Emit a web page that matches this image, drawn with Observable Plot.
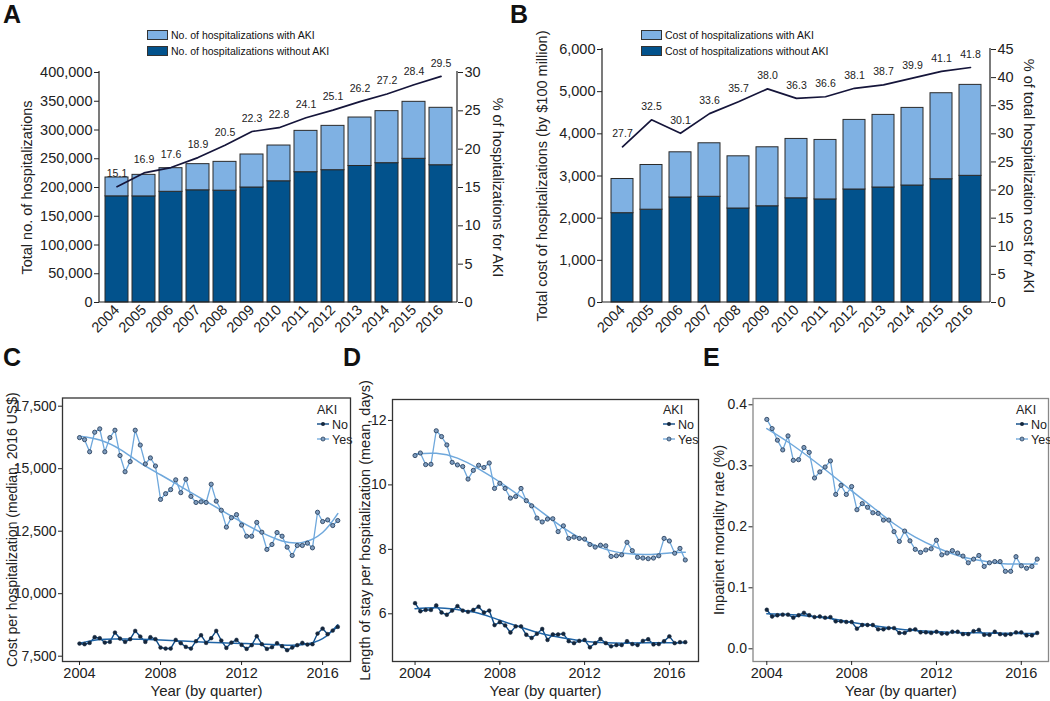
<!DOCTYPE html>
<html><head><meta charset="utf-8">
<script src="https://cdn.jsdelivr.net/npm/d3@7"></script>
<script src="https://cdn.jsdelivr.net/npm/@observablehq/plot@0.6"></script>
<style>
body{margin:0;background:#fff;font-family:"Liberation Sans",Arial,sans-serif;}
#root{position:relative;width:1050px;height:701px;overflow:hidden;background:#fff;}
.panel{position:absolute;}
.lab{position:absolute;font-weight:bold;font-size:25px;line-height:25px;color:#111;}
.leg{position:absolute;font-size:10.5px;line-height:12px;color:#111;white-space:nowrap;}
.sw{position:absolute;width:19px;height:8px;border:1px solid #333;}
</style></head><body><div id="root"></div>
<script>
// ---------- data ----------
const years = [2004,2005,2006,2007,2008,2009,2010,2011,2012,2013,2014,2015,2016];
const hospWithoutAKI = [184600,184500,192500,195100,194500,200000,210800,226600,230100,237400,242300,249900,238700];
const hospWithAKI    = [32800,37500,41100,45500,50100,57400,62200,71900,77100,84300,90500,99100,99900];
const hospPctAKI     = [15.1,16.9,17.6,18.9,20.5,22.3,22.8,24.1,25.1,26.2,27.2,28.4,29.5];
const costWithoutAKI = [2118,2201,2490,2507,2229,2282,2471,2444,2680,2727,2774,2923,3004];
const costWithAKI    = [811,1060,1072,1269,1238,1399,1408,1411,1650,1722,1841,2040,2157];
const costPctAKI     = [27.7,32.5,30.1,33.6,35.7,38.0,36.3,36.6,38.1,38.7,39.9,41.1,41.8];

const quarterOffsets = [0, 0.25, 0.5, 0.75];
const quarterX = years.flatMap(y => quarterOffsets.map(q => y + q));
const smoothYears = [2004,2005,2006,2007,2008,2009,2010,2011,2012,2013,2014,2015,2016,2016.75];
const xTicks = [2004,2008,2012,2016];

const costYes = [16243,16162,15676,16459,16594,15676,16243,16540,15527,14878,15284,16540,15946,15189,15432,15108,13771,14000,14162,14554,14041,14581,13892,13649,13676,13649,14379,13703,13338,12663,13041,13163,12744,12298,12298,12852,12460,11770,11968,12447,12300,11862,11529,11928,11928,12021,11835,13258,12886,12952,12726,12926];
const costNo  = [8007,7980,8033,8260,8220,8047,8073,8447,8207,8073,8180,8513,8287,8073,8260,8180,7847,7807,7807,8153,8020,7873,7807,8100,8340,8033,8220,8513,8127,7833,8047,8153,7953,7793,7940,8300,7980,7793,7860,8020,7900,7740,7847,7940,8033,7967,7980,8407,8607,8380,8527,8673];
const costYesSmooth = [16297,16150,15775,15230,14757,14284,13811,13338,12865,12440,12110,12050,12450,13203];
const costNoSmooth  = [8020,8170,8190,8180,8150,8110,8070,8040,8010,7980,7950,7960,8200,8760];

const losYes = [10.91,10.99,10.63,10.64,11.68,11.50,11.24,10.70,10.62,10.57,10.18,10.45,10.61,10.54,10.68,9.89,10.05,9.89,9.59,9.64,9.89,9.51,9.35,8.97,8.85,8.94,8.95,8.55,8.73,8.34,8.38,8.34,8.32,8.15,8.07,8.13,8.11,7.78,7.80,7.83,8.22,7.96,7.75,7.73,7.71,7.73,7.80,8.34,8.26,7.88,8.03,7.67];
const losNo  = [6.33,6.08,6.12,6.12,6.26,6.04,5.97,6.10,6.24,6.10,6.06,6.12,6.22,6.04,6.10,5.65,5.74,5.64,5.42,5.61,5.61,5.35,5.25,5.38,5.53,5.19,5.36,5.36,5.38,5.15,5.09,5.16,5.19,4.96,5.09,5.22,5.09,4.99,5.03,5.03,5.15,5.06,5.03,5.16,5.21,5.05,5.06,5.15,5.30,5.09,5.12,5.12];
const losYesSmooth = [10.96,10.98,10.83,10.50,10.09,9.63,9.15,8.67,8.28,8.00,7.87,7.84,7.89,7.91];
const losNoSmooth  = [6.16,6.19,6.13,6.02,5.80,5.58,5.38,5.25,5.15,5.10,5.09,5.10,5.10,5.10];

const mortYes = [0.376,0.361,0.342,0.326,0.349,0.309,0.310,0.330,0.322,0.280,0.290,0.298,0.308,0.253,0.268,0.253,0.266,0.228,0.238,0.232,0.223,0.222,0.211,0.211,0.192,0.176,0.193,0.177,0.163,0.158,0.162,0.164,0.178,0.154,0.157,0.161,0.157,0.152,0.141,0.147,0.153,0.135,0.141,0.143,0.143,0.127,0.127,0.151,0.136,0.132,0.135,0.147];
const mortNo  = [0.064,0.053,0.055,0.056,0.056,0.051,0.055,0.059,0.055,0.052,0.053,0.051,0.052,0.045,0.045,0.044,0.044,0.033,0.039,0.039,0.039,0.032,0.032,0.034,0.034,0.026,0.026,0.031,0.032,0.027,0.027,0.026,0.028,0.025,0.025,0.028,0.028,0.024,0.024,0.029,0.031,0.023,0.023,0.028,0.024,0.023,0.024,0.027,0.027,0.022,0.022,0.026];
const mortYesSmooth = [0.361,0.339,0.314,0.287,0.259,0.232,0.205,0.183,0.166,0.153,0.145,0.140,0.139,0.139];
const mortNoSmooth  = [0.0573,0.0562,0.0535,0.0497,0.0437,0.0382,0.0333,0.0300,0.0284,0.0267,0.0262,0.0256,0.0251,0.0251];

// ---------- styles ----------
const FONT = '"Liberation Sans", Arial, sans-serif';
const DARK = "#02528c", LIGHT = "#7fb1e3";
const YES = "#6fa8dc", NO = "#0d4a86", NO_SMOOTH = "#1f64a6";

const root = document.getElementById("root");
function place(node, left, top) {
  const d = document.createElement("div");
  d.className = "panel"; d.style.left = left + "px"; d.style.top = top + "px";
  d.appendChild(node); root.appendChild(d);
}
function addHTML(cls, html, left, top) {
  const d = document.createElement("div");
  d.className = cls; d.style.left = left + "px"; d.style.top = top + "px";
  d.innerHTML = html; root.appendChild(d);
}
function edgeMark(...args) {
  const dims = args.find(a => a && a.marginLeft !== undefined && a.width !== undefined);
  const {marginLeft: l, marginRight: r, marginTop: t, marginBottom: b, width: w, height: h} = dims;
  const g = d3.create("svg:g").attr("stroke", "#222").attr("stroke-width", 1.2);
  g.append("line").attr("x1", l).attr("x2", l).attr("y1", t - 1).attr("y2", h - b);
  g.append("line").attr("x1", w - r).attr("x2", w - r).attr("y1", t - 1).attr("y2", h - b);
  g.append("line").attr("x1", l).attr("x2", w - r).attr("y1", h - b).attr("y2", h - b);
  return g.node();
}

function barPanel(o) {
  const rows = [
    ...years.map((y, i) => ({year: y, group: "without", value: o.without[i]})),
    ...years.map((y, i) => ({year: y, group: "with", value: o.with[i]}))
  ];
  const line = years.map((y, i) => ({year: y, pct: o.pct[i]}));
  const k = o.yMax / o.pMax;
  return Plot.plot({
    width: o.width, height: o.height,
    marginLeft: o.mL, marginRight: o.mR, marginTop: o.mT, marginBottom: o.mB,
    style: {fontFamily: FONT, fontSize: "14.5px", color: "#222", background: "transparent", overflow: "visible"},
    x: {type: "band", domain: years, paddingInner: o.padIn, paddingOuter: o.padOut},
    y: {domain: [0, o.yMax]},
    color: {domain: ["without", "with"], range: [DARK, LIGHT]},
    marks: [
      Plot.barY(rows, {x: "year", y: "value", fill: "group", stroke: "#2a2a2a", strokeWidth: 1}),
      edgeMark,
      Plot.line(line, {x: "year", y: d => d.pct * k, stroke: "#15153a", strokeWidth: 1.7}),
      Plot.text(line, {x: "year", y: d => d.pct * k, text: d => d.pct.toFixed(1), dy: -13, fontSize: 10.5, fill: "#222"}),
      Plot.axisY(d3.range(0, o.yMax + 1, o.yStep), {anchor: "left", tickFormat: d3.format(","), tickSize: 5, tickPadding: 2, label: null, fontSize: 14.5}),
      Plot.axisY(d3.range(0, o.pMax + 1, o.pStep).map(p => p * k), {anchor: "right", tickFormat: d => String(Math.round(d / k)), tickSize: 5, tickPadding: 2, label: null, fontSize: 14.5}),
      Plot.axisX({tickRotate: -45, tickSize: 0, tickPadding: 5, tickFormat: d => String(d), label: null, fontSize: 14.5}),
      Plot.text([o.yTitle], {frameAnchor: "left", textAnchor: "middle", lineAnchor: "middle", rotate: -90, dx: -o.yTitleOff, fontSize: 14.5, fill: "#222"}),
      Plot.text([o.pTitle], {frameAnchor: "right", textAnchor: "middle", lineAnchor: "middle", rotate: 90, dx: o.pTitleOff, fontSize: 14.5, fill: "#222"})
    ]
  });
}

function linePanel(o) {
  const yesRows = quarterX.map((x, i) => ({x, y: o.yes[i]}));
  const noRows = quarterX.map((x, i) => ({x, y: o.no[i]}));
  const yesS = smoothYears.map((x, i) => ({x, y: o.yesS[i]}));
  const noS = smoothYears.map((x, i) => ({x, y: o.noS[i]}));
  return Plot.plot({
    width: o.width, height: o.height,
    marginLeft: o.mL, marginRight: o.mR, marginTop: o.mT, marginBottom: o.mB,
    style: {fontFamily: FONT, fontSize: "14px", color: "#222", background: "transparent", overflow: "visible"},
    x: {domain: o.xDomain},
    y: {domain: o.yDomain},
    marks: [
      Plot.line(yesRows, {x: "x", y: "y", stroke: YES, strokeWidth: 1.3}),
      Plot.line(noRows, {x: "x", y: "y", stroke: NO, strokeWidth: 1.4}),
      Plot.line(yesS, {x: "x", y: "y", curve: "natural", stroke: YES, strokeWidth: 1.5}),
      Plot.line(noS, {x: "x", y: "y", curve: "natural", stroke: NO_SMOOTH, strokeWidth: 1.5}),
      Plot.dot(yesRows, {x: "x", y: "y", r: 2.1, fill: "#7f9dbf", stroke: "#2b4360", strokeWidth: 0.9}),
      Plot.dot(noRows, {x: "x", y: "y", r: 1.9, fill: "#14263c", stroke: "#14263c", strokeWidth: 0.5}),
      Plot.frame({stroke: o.frameColor, strokeWidth: 1.3}),
      Plot.axisY(o.yTicks, {tickFormat: o.yFmt, tickSize: 4, tickPadding: 2, label: null, fontSize: 14}),
      Plot.axisX(xTicks, {tickFormat: d => String(d), tickSize: 4, tickPadding: 2, label: null, fontSize: 14.5}),
      Plot.text([o.yTitle], {frameAnchor: "left", textAnchor: "middle", lineAnchor: "middle", rotate: -90, dx: -o.yTitleOff, fontSize: o.yTitleSize, fill: "#222"}),
      Plot.text(["Year (by quarter)"], {frameAnchor: "bottom", textAnchor: "middle", lineAnchor: "middle", dy: 30, fontSize: 15, fill: "#222"})
    ]
  });
}

// ---------- panel A ----------
place(barPanel({
  width: 520, height: 340, mL: 99, mR: 63, mT: 72, mB: 38,
  without: hospWithoutAKI, with: hospWithAKI, pct: hospPctAKI,
  yMax: 400000, yStep: 50000, pMax: 30, pStep: 5, padIn: 0.15, padOut: 0.05,
  yTitle: "Total no. of hospitalizations", yTitleOff: 72,
  pTitle: "% of hospitalizations for AKI", pTitleOff: 40
}), 0, 0);

// ---------- panel B ----------
place(barPanel({
  width: 530, height: 340, mL: 82, mR: 60, mT: 49, mB: 38,
  without: costWithoutAKI, with: costWithAKI, pct: costPctAKI,
  yMax: 6000, yStep: 1000, pMax: 45, pStep: 5, padIn: 0.25, padOut: 0.11,
  yTitle: "Total cost of hospitalizations (by $100 million)", yTitleOff: 60,
  pTitle: "% of total hospitalization cost for AKI", pTitleOff: 38
}), 520, 0);

// ---------- panel C ----------
place(linePanel({
  width: 355, height: 321, mL: 62, mR: 5, mT: 17.5, mB: 40,
  xDomain: [2003.161, 2017.377], yDomain: [7288, 17828],
  yTicks: [7500, 10000, 12500, 15000, 17500], yFmt: d3.format(","),
  yes: costYes, no: costNo, yesS: costYesSmooth, noS: costNoSmooth,
  frameColor: "#333", yTitle: "Cost per hospitalization (median, 2016 US$)", yTitleOff: 50, yTitleSize: 14
}), 0, 380);

// ---------- panel D ----------
place(linePanel({
  width: 355, height: 321, mL: 42, mR: 7, mT: 19, mB: 40,
  xDomain: [2002.936, 2017.374], yDomain: [4.52, 12.65],
  yTicks: [6, 8, 10, 12], yFmt: d => String(d),
  yes: losYes, no: losNo, yesS: losYesSmooth, noS: losNoSmooth,
  frameColor: "#333", yTitle: "Length of stay per hospitalization (mean, days)", yTitleOff: 27, yTitleSize: 14.5
}), 350, 380);

// ---------- panel E ----------
place(linePanel({
  width: 350, height: 321, mL: 52.5, mR: 2, mT: 18, mB: 40,
  xDomain: [2003.349, 2017.283], yDomain: [-0.0208, 0.4103],
  yTicks: [0, 0.1, 0.2, 0.3, 0.4], yFmt: d3.format(".1f"),
  yes: mortYes, no: mortNo, yesS: mortYesSmooth, noS: mortNoSmooth,
  frameColor: "#888", yTitle: "Inpatinet mortality rate (%)", yTitleOff: 34, yTitleSize: 14.5
}), 700, 380);

// ---------- legends ----------
function barLegend(x, a, b) {
  addHTML("sw", "", x, 30); root.lastChild.style.background = LIGHT;
  addHTML("sw", "", x, 46); root.lastChild.style.background = DARK;
  addHTML("leg", a, x + 24, 29);
  addHTML("leg", b, x + 24, 45);
}
barLegend(147, "No. of hospitalizations with AKI", "No. of hospitalizations without AKI");
barLegend(641, "Cost of hospitalizations with AKI", "Cost of hospitalizations without AKI");

function akiLegend(x) {
  const svg = `<svg width="50" height="46" style="overflow:visible">
    <text x="0" y="12" font-size="12.5" fill="#222">AKI</text>
    <line x1="0" x2="12" y1="22" y2="22" stroke="${NO}" stroke-width="1.4"/>
    <circle cx="6" cy="22" r="2" fill="#14263c"/>
    <text x="15" y="26.5" font-size="12.5" fill="#222">No</text>
    <line x1="0" x2="12" y1="37" y2="37" stroke="${YES}" stroke-width="1.3"/>
    <circle cx="6" cy="37" r="2" fill="#7f9dbf" stroke="#2b4360" stroke-width="0.8"/>
    <text x="15" y="41.5" font-size="12.5" fill="#222">Yes</text></svg>`;
  addHTML("panel", svg, x, 402);
}
akiLegend(317); akiLegend(663); akiLegend(1016);

// ---------- panel letters ----------
addHTML("lab", "A", 3, 2);
addHTML("lab", "B", 510, 2);
addHTML("lab", "C", 3, 345);
addHTML("lab", "D", 343, 345);
addHTML("lab", "E", 703, 345);
</script></body></html>
